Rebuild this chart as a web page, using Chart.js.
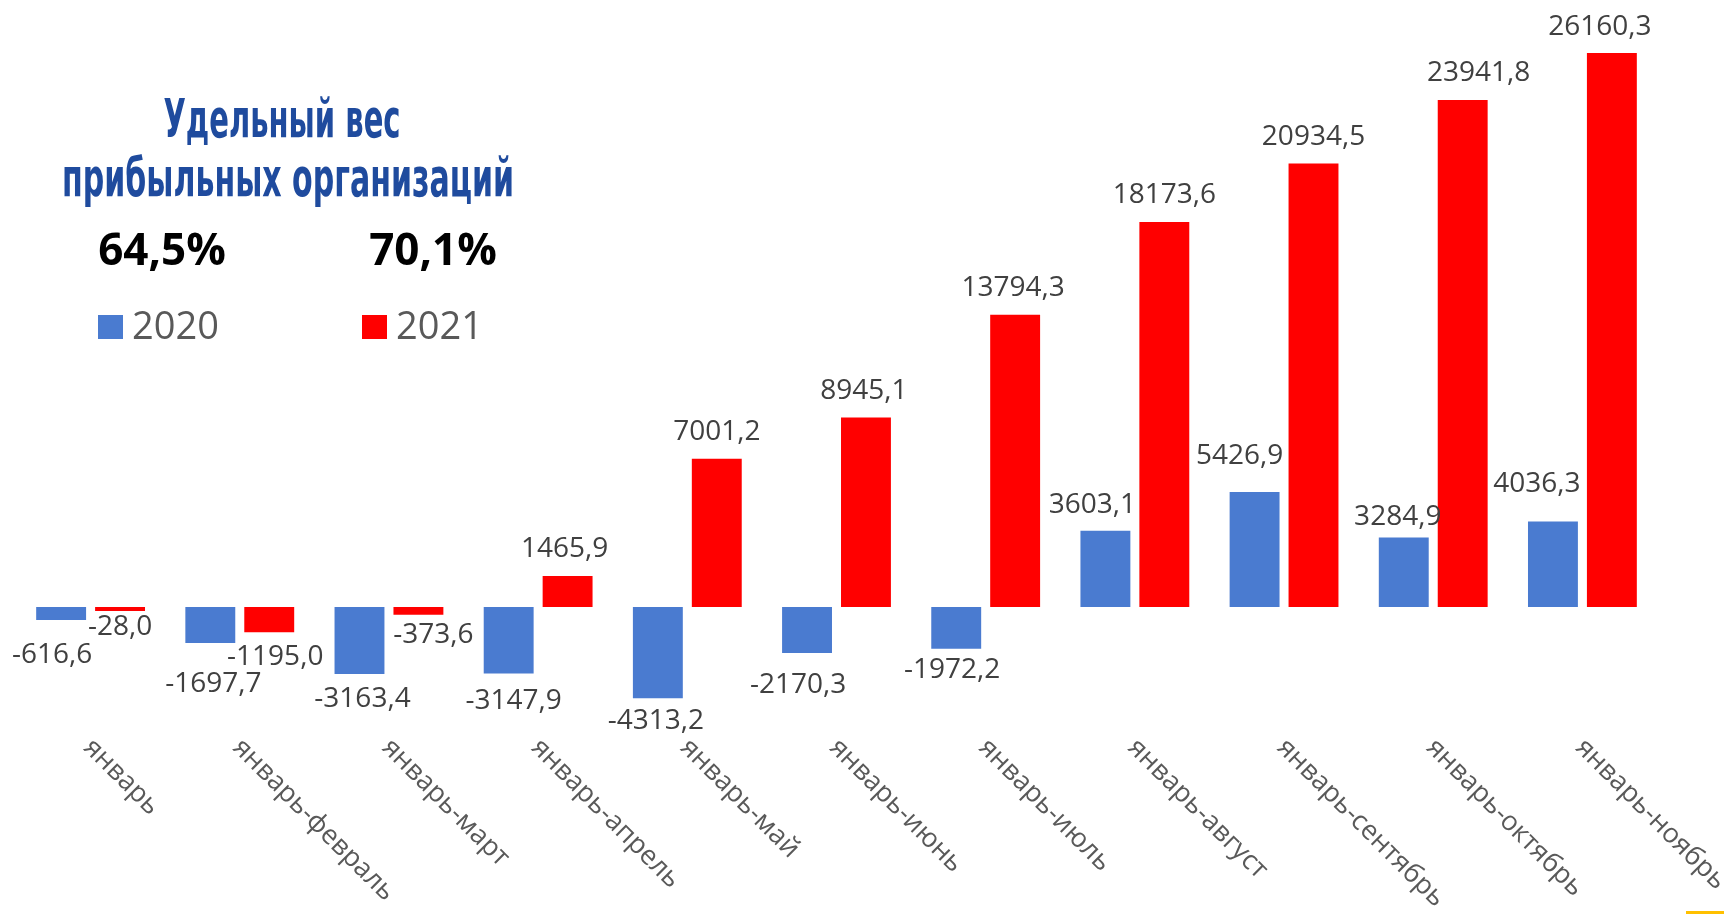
<!DOCTYPE html>
<html lang="ru">
<head>
<meta charset="utf-8">
<title>Удельный вес прибыльных организаций</title>
<script src="https://cdn.jsdelivr.net/npm/chart.js@4/dist/chart.umd.min.js"></script>
<style>
  html, body { margin: 0; padding: 0; background: #ffffff; }
  #wrap { width: 1724px; height: 914px; }
</style>
</head>
<body>
<div id="wrap"><canvas id="c" width="1724" height="914"></canvas></div>
<script>
// ---- data ----
const categories = ['январь', 'январь-февраль', 'январь-март', 'январь-апрель', 'январь-май',
  'январь-июнь', 'январь-июль', 'январь-август', 'январь-сентябрь', 'январь-октябрь', 'январь-ноябрь'];
const seriesNames = ['2020', '2021'];
const values2020 = [-616.6, -1697.7, -3163.4, -3147.9, -4313.2, -2170.3, -1972.2, 3603.1, 5426.9, 3284.9, 4036.3];
const values2021 = [-28.0, -1195.0, -373.6, 1465.9, 7001.2, 8945.1, 13794.3, 18173.6, 20934.5, 23941.8, 26160.3];
const titleLines = ['Удельный вес', 'прибыльных организаций'];
const shareTexts = ['64,5%', '70,1%'];

// ---- styling / placement (not data) ----
const COLORS = ['#4A7BD0', '#FF0000'];
const LABEL_FONT = '28px "Open Sans", "Liberation Sans", sans-serif';
const CAP = 20;
// per-label nudges [dx, gap] (Excel labels were moved by hand)
const labelNudge = [
  [[-9,23],[3,29],[3,13],[5,15],[-2,11],[-9,20],[-4,9],[-13,18],[-15,28],[-6,12],[-16,29]],
  [[0,4],[6,13],[15,8],[-3,19],[0,19],[-2,19],[-2,19],[0,19],[0,19],[16,19],[-12,18]]
];

function fmt(v) { return v.toFixed(1).replace('.', ','); }

const valueLabels = {
  id: 'valueLabels',
  afterDatasetsDraw(chart) {
    const ctx = chart.ctx;
    ctx.save();
    ctx.font = LABEL_FONT;
    ctx.fillStyle = '#404040';
    ctx.textAlign = 'center';
    ctx.textBaseline = 'alphabetic';
    chart.data.datasets.forEach((ds, di) => {
      const meta = chart.getDatasetMeta(di);
      meta.data.forEach((bar, i) => {
        const v = ds.data[i];
        const [dx, gap] = labelNudge[di][i];
        const x = bar.x + dx;
        const y = v < 0 ? bar.y + gap + CAP : bar.y - gap;
        ctx.fillText(fmt(v), x, y);
      });
    });
    ctx.restore();
  }
};

function squeezeText(ctx, text, cx, baseline, targetW) {
  const w = ctx.measureText(text).width;
  ctx.save();
  ctx.translate(cx, baseline);
  ctx.scale(targetW / w, 1);
  ctx.textAlign = 'center';
  ctx.fillText(text, 0, 0);
  ctx.restore();
}

const decorations = {
  id: 'decorations',
  afterDraw(chart) {
    const ctx = chart.ctx;
    const xs = chart.scales.x;
    const area = chart.chartArea;
    ctx.save();
    // category labels, rotated 45deg clockwise, starting at the tick
    ctx.font = '27px "Open Sans", "Liberation Sans", sans-serif';
    ctx.fillStyle = '#595959';
    ctx.textAlign = 'left';
    ctx.textBaseline = 'alphabetic';
    categories.forEach((c, i) => {
      const x = xs.getPixelForTick(i) - 8;
      const y = area.bottom + 15;
      ctx.save();
      ctx.translate(x, y);
      ctx.rotate(Math.PI / 4);
      ctx.fillText(c, 0, 0);
      ctx.restore();
    });
    // title block
    ctx.fillStyle = '#1F4B9E';
    ctx.font = 'bold 53px "Liberation Sans Narrow", "DejaVu Sans Condensed", "Liberation Sans", sans-serif';
    ctx.textBaseline = 'alphabetic';
    squeezeText(ctx, titleLines[0], 282, 137, 237);
    squeezeText(ctx, titleLines[1], 288, 196, 452);
    // shares
    ctx.fillStyle = '#000000';
    ctx.font = 'bold 44px "Open Sans", "Liberation Sans", sans-serif';
    ctx.textAlign = 'center';
    ctx.fillText(shareTexts[0], 162, 265);
    ctx.fillText(shareTexts[1], 433, 265);
    // legend
    const legendX = [98, 362];
    ctx.font = '38px "Open Sans", "Liberation Sans", sans-serif';
    ctx.textAlign = 'left';
    chart.data.datasets.forEach((ds, di) => {
      ctx.fillStyle = ds.backgroundColor;
      ctx.fillRect(legendX[di], 315, 25, 24);
      ctx.fillStyle = '#595959';
      ctx.fillText(ds.label, legendX[di] + 34, 339);
    });
    // small yellow strip at bottom right corner
    ctx.fillStyle = '#FFC000';
    ctx.fillRect(1686, 911, 38, 3);
    ctx.restore();
  }
};

function build() {
  new Chart(document.getElementById('c'), {
    type: 'bar',
    data: {
      labels: categories,
      datasets: [
        { label: seriesNames[0], data: values2020, backgroundColor: COLORS[0], minBarLength: 4 },
        { label: seriesNames[1], data: values2021, backgroundColor: COLORS[1], minBarLength: 4 }
      ]
    },
    options: {
      responsive: false,
      devicePixelRatio: 1,
      animation: false,
      categoryPercentage: 0.79,
      barPercentage: 0.847,
      layout: { padding: { left: 16, right: 67, top: 14, bottom: 180 } },
      plugins: {
        legend: { display: false },
        title: { display: false },
        tooltip: { enabled: false }
      },
      scales: {
        x: { display: false, grid: { display: false } },
        y: { display: false, min: -6000, max: 28000, grid: { display: false } }
      }
    },
    plugins: [valueLabels, decorations]
  });
}

const fontLoads = [
  '28px "Open Sans"', 'bold 44px "Open Sans"', 'bold 53px "Liberation Sans Narrow"', 'bold 53px "DejaVu Sans Condensed"'
].map(f => document.fonts.load(f, 'Удельный вес 0123').catch(() => null));
Promise.all(fontLoads).then(build, build);
</script>
</body>
</html>
